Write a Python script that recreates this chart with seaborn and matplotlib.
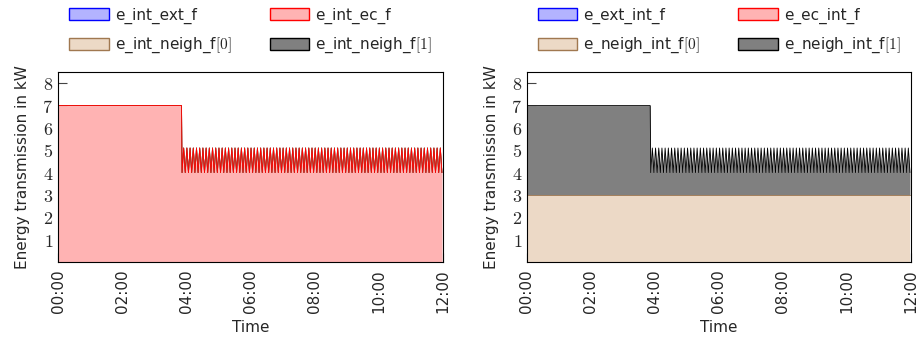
import numpy as np
import pandas as pd
import matplotlib
matplotlib.use("Agg")
import matplotlib.pyplot as plt
import matplotlib.dates as mdates
from matplotlib.patches import Patch
import seaborn as sns

# time axis: flat part before the drop, then 3-minute samples that alternate
day = "2020-01-01 "
t_flat = ["00:00", "03:51"]
osc_start, osc_end, osc_step = "03:52", "12:00", "3min"

# left panel (internal -> ...)
left_labels = ["e_int_ext_f", "e_int_ec_f", "e_int_neigh_f$[0]$", "e_int_neigh_f$[1]$"]
left_ext = 0.0
left_ec_flat = [7.0, 7.0]
left_ec_cycle = [4.0, 5.1]
left_neigh0 = 0.0
left_neigh1 = 0.0

# right panel (... -> internal)
right_labels = ["e_ext_int_f", "e_ec_int_f", "e_neigh_int_f$[0]$", "e_neigh_int_f$[1]$"]
right_ext = 0.0
right_ec = 0.0
right_neigh0 = 3.0
right_neigh1_flat = [4.0, 4.0]
right_neigh1_cycle = [1.0, 2.1]

y_ticks = [1, 2, 3, 4, 5, 6, 7, 8]

fills = ["#b3b3ff", "#ffb3b3", "#ecd9c6", "#808080"]
edges = ["#0000ff", "#ff0000", "#a07850", "#000000"]

sns.set_style("ticks")
plt.rcParams["font.family"] = ["DejaVu Sans"]
plt.rcParams["mathtext.fontset"] = "cm"

times = pd.to_datetime([day + t for t in t_flat] +
                       list(pd.date_range(day + osc_start, day + osc_end, freq=osc_step)))
n_osc = len(times) - len(t_flat)


def series(flat, cycle):
    return np.array(list(flat) + list(np.resize(cycle, n_osc)))


def const(v):
    return np.full(len(times), v)


left_layers = [const(left_ext), series(left_ec_flat, left_ec_cycle),
               const(left_neigh0), const(left_neigh1)]
right_layers = [const(right_ext), const(right_ec),
                const(right_neigh0), series(right_neigh1_flat, right_neigh1_cycle)]

fig = plt.figure(figsize=(9.21, 3.42), dpi=100)
ax_l = fig.add_axes([58 / 921, 1 - 262 / 342, 385 / 921, 190 / 342])
ax_r = fig.add_axes([527 / 921, 1 - 262 / 342, 384 / 921, 190 / 342])

for ax, layers, labels in [(ax_l, left_layers, left_labels), (ax_r, right_layers, right_labels)]:
    tops = np.cumsum(np.vstack(layers), axis=0)
    bases = np.vstack([np.zeros(len(times)), tops[:-1]])
    for base, top, fc in zip(bases, tops, fills):
        ax.fill_between(times, base, top, color=fc, lw=0)
    # upper layers' outlines first, so the lower ones end up on top
    for top, ec in reversed(list(zip(tops, edges))):
        sns.lineplot(x=times, y=top, ax=ax, color=ec, lw=0.6)

    ax.set_xlim(pd.Timestamp(day + "00:00"), pd.Timestamp(day + "12:00"))
    ax.set_ylim(0, 8.5)
    ax.xaxis.set_major_locator(mdates.HourLocator(byhour=range(0, 13, 2)))
    ax.xaxis.set_major_formatter(mdates.DateFormatter("%H:%M"))
    ax.set_yticks(y_ticks)
    ax.set_yticklabels([f"${v}$" for v in y_ticks], fontsize=13)
    ax.tick_params(axis="x", labelrotation=90, labelsize=11, pad=5)
    ax.tick_params(direction="in", length=6.5, width=0.8, color="#444444")
    for s in ax.spines.values():
        s.set_visible(True)
        s.set_linewidth(0.8)
        s.set_color("black")
    ax.set_xlabel("Time", fontsize=11, labelpad=5)
    ax.set_ylabel("Energy transmission in kW", fontsize=11, labelpad=9)

    handles = [Patch(facecolor=fc, edgecolor=ec, lw=1.0, label=lab)
               for fc, ec, lab in zip(fills, edges, labels)]
    # legend fills column by column; reorder so it reads row by row
    handles = [handles[i] for i in (0, 2, 1, 3)]
    ax.legend(handles=handles, loc="lower center", bbox_to_anchor=(0.5, 1.04),
              ncol=2, frameon=False, fontsize=11, handlelength=2.6, handleheight=0.8,
              handletextpad=0.4, columnspacing=2.5, labelspacing=0.8,
              borderaxespad=0.2)

fig.savefig("out.png", dpi=100)
